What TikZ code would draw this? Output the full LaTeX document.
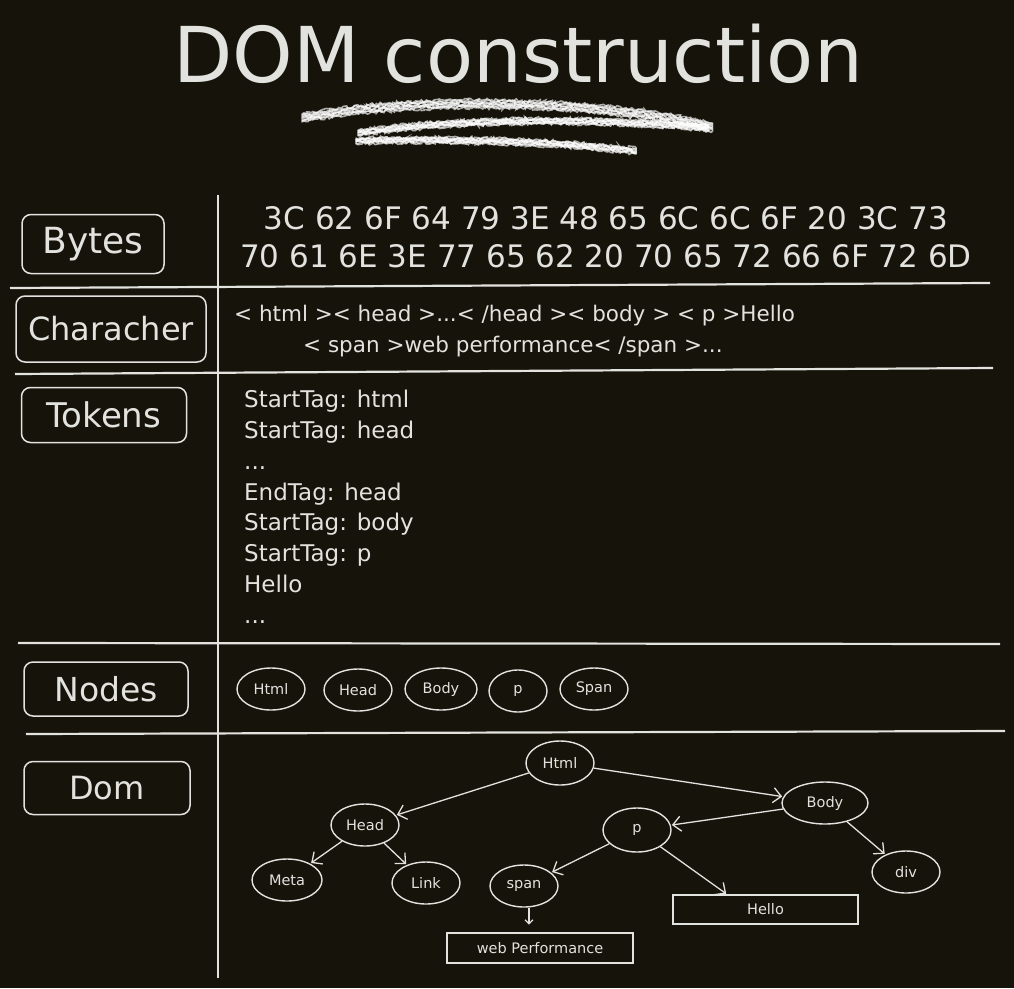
\documentclass[tikz,border=0pt]{standalone}
\usepackage{fontspec}
\setmainfont{DejaVu Sans}
\usetikzlibrary{shapes.geometric,arrows.meta,decorations.pathmorphing}
\definecolor{bg}{HTML}{16130A}
\definecolor{fg}{HTML}{E2E2DE}
\newcommand{\fs}[1]{\fontsize{#1}{#1}\selectfont}
\begin{document}
\begin{tikzpicture}[x=1pt,y=-1pt,
  lab/.style={draw=fg, line width=1.5pt, rounded corners=9pt, text=fg, inner sep=0pt},
  oval/.style={ellipse, draw=fg, line width=1.4pt, text=fg, inner sep=0pt, font=\fs{14.5}},
  tbox/.style={rectangle, draw=fg, line width=1.4pt, text=fg, inner sep=0pt, font=\fs{14.5}},
  arr/.style={fg, line width=1.3pt, -{Straight Barb[length=8pt,width=15pt,line width=1.3pt]}, shorten >=1pt},
  sep/.style={fg, line width=2.2pt},
  txt/.style={text=fg, inner sep=0pt},
  chalk/.style={white, opacity=0.65, line width=1.6pt, line cap=round,
     decorate, decoration={random steps, segment length=2pt, amplitude=1.5pt}}
]
\fill[bg] (0,0) rectangle (1014,988);
\useasboundingbox (0,0) rectangle (1014,988);

% title
\node[txt, font=\fs{77}] (title) at (518,54) {DOM construction};

% chalk underline
\foreach \d in {-4,-3,...,4} {
  \draw[chalk] (302,118+\d) .. controls (420,96+\d) and (600,100+\d) .. (712,127+\d);
  \draw[chalk] (358,133+0.7*\d) .. controls (460,118+0.7*\d) and (600,118+0.7*\d) .. (708,128+0.7*\d);
  \draw[chalk] (356,141+0.7*\d) .. controls (450,138+0.7*\d) and (560,142+0.7*\d) .. (636,151+0.7*\d);
}

% grid
\coordinate (vt) at (218,195);
\coordinate (vb) at (218,978);
\draw[sep] (vt) -- (vb);
\coordinate (h1a) at (10,288); \coordinate (h1b) at (990,283);
\coordinate (h2a) at (15,374); \coordinate (h2b) at (993,368);
\coordinate (h3a) at (18,643); \coordinate (h3b) at (1000,644);
\coordinate (h4a) at (26,734); \coordinate (h4b) at (1005,731);
\draw[sep] (h1a) -- (h1b);
\draw[sep] (h2a) -- (h2b);
\draw[sep] (h3a) -- (h3b);
\draw[sep] (h4a) -- (h4b);

% labels
\node[lab, minimum width=142pt, minimum height=59pt, font=\fs{36}] (bytes) at (93,244) {Bytes};
\node[lab, minimum width=190pt, minimum height=66pt, font=\fs{32}] (chars) at (111,329) {Characher};
\node[lab, minimum width=165pt, minimum height=55pt, font=\fs{34}] (tokens) at (104,415) {Tokens};
\node[lab, minimum width=164pt, minimum height=54pt, font=\fs{33}] (nodes) at (106,689) {Nodes};
\node[lab, minimum width=166pt, minimum height=53pt, font=\fs{32}] (dom) at (107,788) {Dom};

% bytes
\node[txt, font=\fs{31}] (b1) at (606,218) {3C 62 6F 64 79 3E 48 65 6C 6C 6F 20 3C 73};
\node[txt, font=\fs{31}] (b2) at (606,256) {70 61 6E 3E 77 65 62 20 70 65 72 66 6F 72 6D};

% characters
\node[txt, font=\fs{21.5}, anchor=west] (c1) at (234,316) {< html >< head >...< /head >< body > < p >Hello};
\node[txt, font=\fs{21.5}, anchor=west] (c2) at (303,347) {< span >web performance< /span >...};

% tokens
\node[txt, font=\fontsize{23}{30.8}\selectfont, anchor=north west, align=left] (tok) at (244,390)
  {StartTag: html\\StartTag: head\\...\\EndTag: head\\StartTag: body\\StartTag: p\\Hello\\...};

% nodes row
\node[oval, minimum width=68pt, minimum height=42pt] (nhtml) at (271,689) {Html};
\node[oval, minimum width=68pt, minimum height=42pt] (nhead) at (358,690) {Head};
\node[oval, minimum width=72pt, minimum height=42pt] (nbody) at (441,689) {Body};
\node[oval, minimum width=58pt, minimum height=42pt] (np) at (518,691) {p};
\node[oval, minimum width=68pt, minimum height=42pt] (nspan) at (594,689) {Span};

% dom tree
\node[oval, minimum width=68pt, minimum height=44pt] (html) at (560,763) {Html};
\node[oval, minimum width=68pt, minimum height=42pt] (head) at (365,825) {Head};
\node[oval, minimum width=86pt, minimum height=42pt] (body) at (825,803) {Body};
\node[oval, minimum width=68pt, minimum height=44pt] (p) at (637,830) {p};
\node[oval, minimum width=70pt, minimum height=42pt] (meta) at (287,880) {Meta};
\node[oval, minimum width=68pt, minimum height=42pt] (link) at (426,883) {Link};
\node[oval, minimum width=68pt, minimum height=42pt] (span) at (524,886) {span};
\node[oval, minimum width=68pt, minimum height=42pt] (div) at (906,872) {div};
\node[tbox, minimum width=185pt, minimum height=29pt] (hello) at (765.5,909.5) {Hello};
\node[tbox, minimum width=186pt, minimum height=30pt] (web) at (540,948) {web Performance};

\draw[arr] (html) -- (head);
\draw[arr] (html) -- (body);
\draw[arr] (body) -- (p);
\draw[arr] (body) -- (div);
\draw[arr] (head) -- (meta);
\draw[arr] (head) -- (link);
\draw[arr] (p) -- (span);
\draw[arr] (p) -- (hello.north west -| 727,0);
\draw[arr, -{Straight Barb[length=4pt,width=8pt,line width=1.3pt]}] (span.south -| 529,0) -- ++(0,18);
\end{tikzpicture}
\end{document}
